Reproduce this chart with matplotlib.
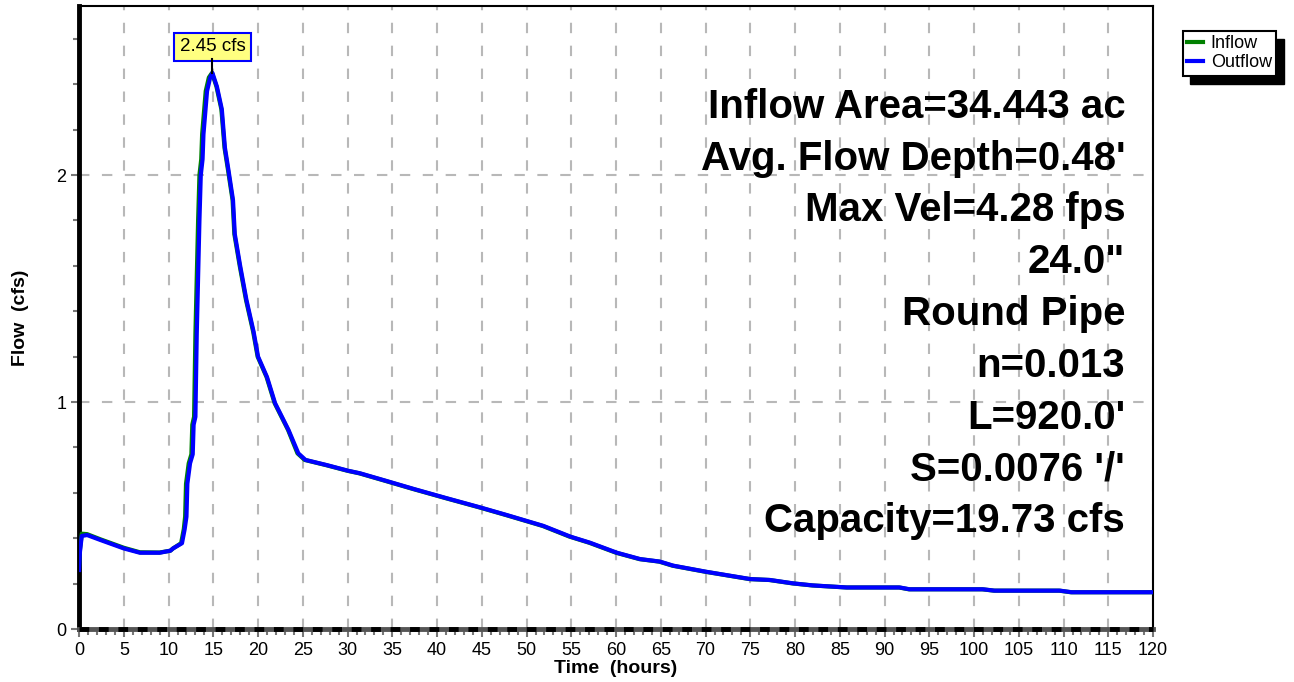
import matplotlib.pyplot as plt
from matplotlib.ticker import MultipleLocator

plt.rcParams['font.family'] = ['Liberation Sans', 'DejaVu Sans']

# hydrograph (hours, cfs)
out_time = [0.0, 0.1, 0.3, 0.9, 2.4, 5.0, 6.8, 9.0, 10.2, 10.5, 11.5, 11.8, 12.0, 12.1,
            12.4, 12.7, 12.8, 13.0, 13.15, 13.45, 13.6, 13.8, 13.9, 14.3, 14.65, 14.9,
            15.4, 15.95, 16.3, 16.7, 17.2, 17.4, 18.0, 18.7, 19.5, 20.0, 21.0, 21.9,
            23.4, 24.5, 25.3, 27.7, 30.1, 31.4, 34.2, 37.4, 41.1, 44.8, 47.8, 51.9,
            54.9, 57.1, 60.1, 62.7, 64.9, 66.4, 70.1, 75.0, 77.2, 79.8, 82.0, 85.8,
            91.7, 92.8, 101.0, 102.3, 109.6, 110.9, 120.0]
out_flow = [0.26, 0.34, 0.41, 0.414, 0.392, 0.355, 0.336, 0.336, 0.345, 0.355, 0.378,
            0.44, 0.495, 0.64, 0.73, 0.77, 0.90, 0.935, 1.30, 1.80, 2.00, 2.07, 2.18,
            2.37, 2.43, 2.45, 2.39, 2.29, 2.12, 2.02, 1.89, 1.74, 1.60, 1.45, 1.31,
            1.20, 1.11, 0.995, 0.877, 0.774, 0.745, 0.722, 0.697, 0.686, 0.654, 0.617,
            0.576, 0.536, 0.502, 0.454, 0.407, 0.38, 0.336, 0.308, 0.297, 0.279, 0.252,
            0.22, 0.216, 0.201, 0.192, 0.183, 0.183, 0.175, 0.175, 0.169, 0.169, 0.162,
            0.162]

in_time = [0.0, 0.1, 0.3, 0.9, 2.4, 5.0, 6.8, 9.0, 10.2, 10.5, 11.4, 11.7, 11.85, 11.95,
           12.25, 12.55, 12.65, 12.85, 13.0, 13.3, 13.45, 13.65, 13.75, 14.15, 14.5, 14.85,
           15.35, 15.9, 16.25, 16.65, 17.15, 17.35, 17.95, 18.65, 19.45, 19.95, 20.95,
           21.85, 23.35, 24.4, 25.2, 27.6, 30.0, 31.3, 34.1, 37.3, 41.0, 44.7, 47.7,
           51.8, 54.8, 57.0, 60.0, 62.6, 64.8, 66.3, 70.0, 74.9, 77.1, 79.7, 81.9,
           85.7, 91.6, 92.7, 100.9, 102.2, 109.5, 110.8, 120.0]
in_flow = [0.27, 0.35, 0.42, 0.418, 0.395, 0.358, 0.338, 0.337, 0.345, 0.355, 0.378,
           0.44, 0.495, 0.64, 0.73, 0.77, 0.90, 0.935, 1.30, 1.80, 2.00, 2.07, 2.18,
           2.37, 2.43, 2.45, 2.39, 2.29, 2.12, 2.02, 1.89, 1.74, 1.60, 1.45, 1.31,
           1.20, 1.11, 0.995, 0.877, 0.774, 0.745, 0.722, 0.697, 0.686, 0.654, 0.617,
           0.576, 0.536, 0.502, 0.454, 0.407, 0.38, 0.336, 0.308, 0.297, 0.279, 0.252,
           0.22, 0.216, 0.201, 0.192, 0.183, 0.183, 0.175, 0.175, 0.169, 0.169, 0.162,
           0.162]

peak_time = 14.9
peak_flow = 2.45

info = ["Inflow Area=34.443 ac", "Avg. Flow Depth=0.48'", "Max Vel=4.28 fps",
        '24.0"', "Round Pipe", "n=0.013", "L=920.0'", "S=0.0076 '/'",
        "Capacity=19.73 cfs"]

fig = plt.figure(figsize=(12.94, 6.82), dpi=100)
ax = fig.add_axes([0.0611, 0.0777, 0.8300, 0.9135])

ax.plot(in_time, in_flow, color='#008000', lw=3, label='Inflow', zorder=3)
ax.plot(out_time, out_flow, color='#0000ff', lw=3, label='Outflow', zorder=4)

ax.set_xlim(0, 120)
ax.set_ylim(0, 2.745)
ax.xaxis.set_major_locator(MultipleLocator(5))
ax.xaxis.set_minor_locator(MultipleLocator(1))
ax.yaxis.set_major_locator(MultipleLocator(1))
ax.yaxis.set_minor_locator(MultipleLocator(0.2))
ax.tick_params(which='major', length=6, width=1.5, color='#777777', labelsize=13, pad=3)
ax.tick_params(which='minor', length=4, width=1.5, color='#777777')
ax.grid(which='major', color='#b8b8b8', linestyle=(0, (5, 6)), linewidth=1.5)

for s in ['top', 'right']:
    ax.spines[s].set_linewidth(1.5)
ax.spines['left'].set_linewidth(3.5)
ax.spines['bottom'].set_linewidth(3.5)
ax.spines['bottom'].set_color('#555555')
ax.axhline(0, color='black', lw=3.5, linestyle=(0, (2, 2)), zorder=5, clip_on=False)

ax.set_xlabel('Time  (hours)', fontsize=14, fontweight='bold', labelpad=1)
ax.set_ylabel('Flow  (cfs)', fontsize=14, fontweight='bold', labelpad=20)

# peak label
ax.plot([peak_time, peak_time], [peak_flow, peak_flow + 0.06], color='black', lw=1.5, zorder=5)
ax.annotate(f'{peak_flow:.2f} cfs', xy=(peak_time, peak_flow + 0.06), xytext=(0, 3),
            textcoords='offset points', ha='center', va='bottom', fontsize=13.5,
            bbox=dict(boxstyle='square,pad=0.3', fc='#ffff80', ec='#0000ff', lw=1.5))

for i, line in enumerate(info):
    ax.text(0.974, 0.838 - i * 0.0831, line, transform=ax.transAxes, ha='right',
            va='center', fontsize=29, fontweight='bold')

leg = fig.legend(loc='upper left', bbox_to_anchor=(0.914, 0.955), fontsize=13,
                 frameon=True, fancybox=False, shadow=False, framealpha=1,
                 handlelength=0.9, handletextpad=0.4, borderpad=0.25,
                 labelspacing=0.12, borderaxespad=0)
leg.get_frame().set_edgecolor('black')
leg.get_frame().set_linewidth(1.5)
for h in leg.get_lines():
    h.set_linewidth(3)

fig.canvas.draw()
bb = leg.get_window_extent().transformed(fig.transFigure.inverted())
fig.patches.append(plt.Rectangle((bb.x0 + 0.006, bb.y0 - 0.012), bb.width, bb.height,
                                 transform=fig.transFigure, color='black', zorder=0))

fig.savefig('out.png', dpi=100)
